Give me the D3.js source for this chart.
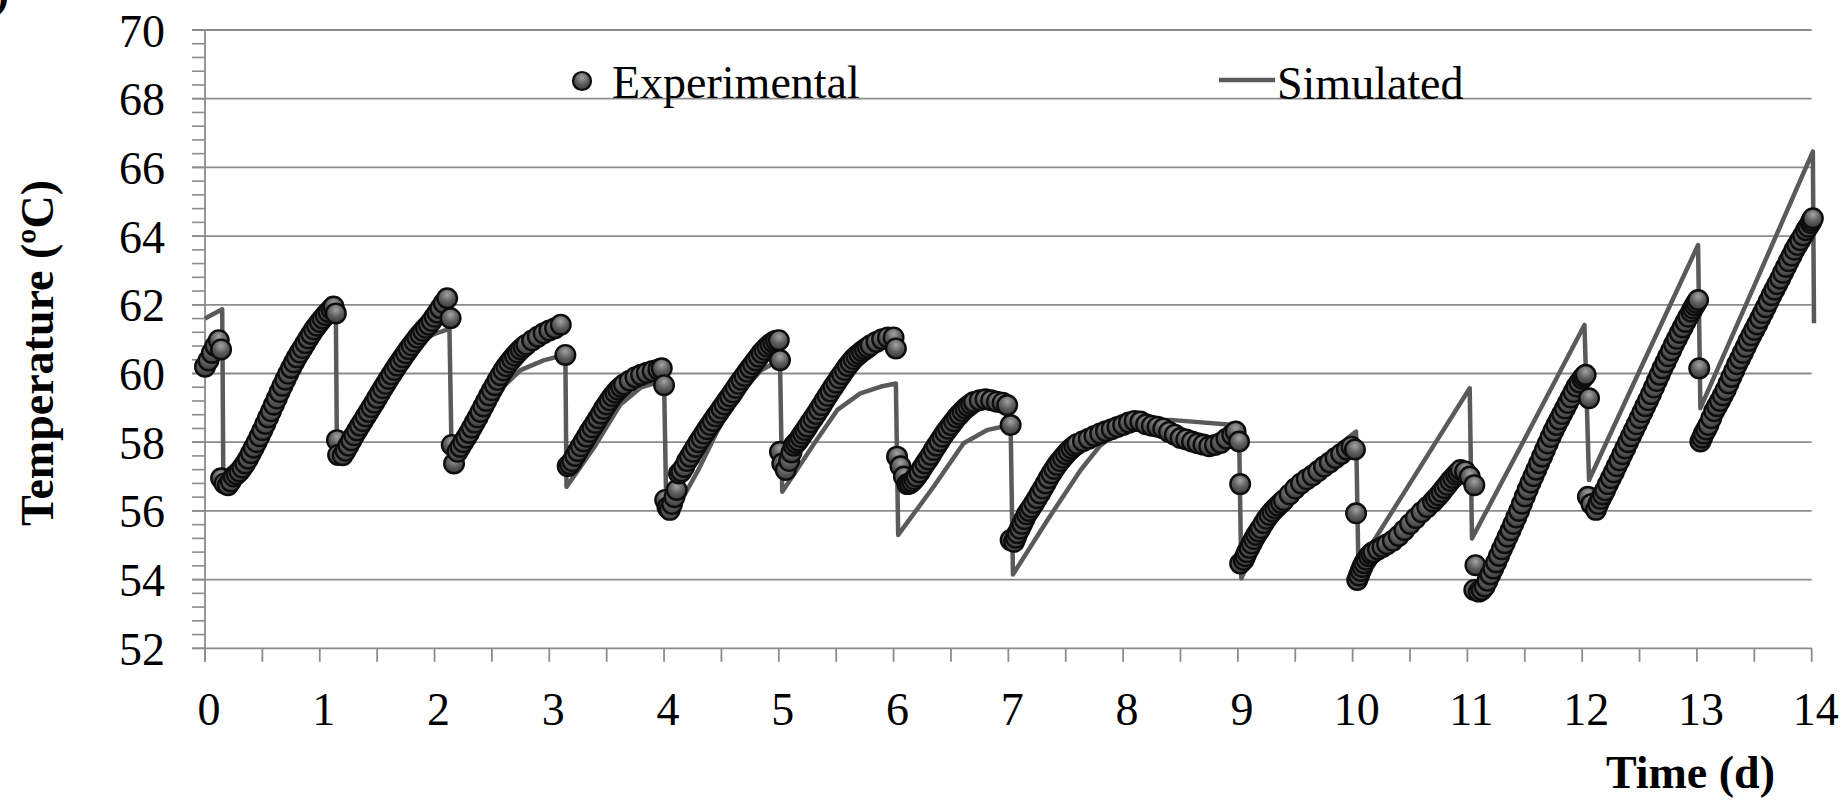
<!DOCTYPE html>
<html>
<head>
<meta charset="utf-8">
<script src="https://cdn.jsdelivr.net/npm/d3@7"></script>
<style>
  body { margin: 0; background: #fff; }
  text { font-family: "Liberation Serif", "Times New Roman", serif; fill: #000; }
</style>
</head>
<body>
<svg id="chart" width="1848" height="802"></svg>
<script>
// values: [time (d), temperature (ºC)]
var experimental = [
  [0.00,60.20],[0.03,60.38],[0.06,60.60],[0.09,60.80],[0.12,60.97],[0.14,60.70],
  [0.14,56.95],[0.17,56.80],[0.20,56.75],[0.225,56.86],[0.25,57.00],[0.275,57.07],[0.30,57.15],[0.325,57.26],[0.35,57.38],[0.375,57.52],[0.40,57.68],[0.425,57.84],[0.45,58.00],[0.475,58.17],[0.50,58.35],[0.525,58.53],[0.55,58.72],[0.575,58.90],[0.60,59.09],[0.625,59.27],[0.65,59.46],[0.675,59.64],[0.70,59.82],[0.725,59.99],[0.75,60.16],[0.775,60.32],[0.80,60.47],[0.825,60.61],[0.85,60.74],[0.875,60.88],[0.90,61.02],[0.925,61.15],[0.95,61.28],[0.975,61.39],[1.00,61.50],[1.025,61.60],[1.05,61.70],[1.075,61.79],[1.10,61.88],[1.12,61.95],[1.14,61.75],
  [1.15,58.06],[1.16,57.63],[1.20,57.62],[1.225,57.75],[1.25,57.90],[1.275,58.05],[1.30,58.20],[1.325,58.34],[1.35,58.48],[1.375,58.61],[1.40,58.75],[1.425,58.88],[1.45,59.02],[1.475,59.15],[1.50,59.29],[1.525,59.43],[1.55,59.57],[1.575,59.70],[1.60,59.84],[1.625,59.97],[1.65,60.10],[1.675,60.23],[1.70,60.35],[1.725,60.47],[1.75,60.59],[1.775,60.71],[1.80,60.82],[1.825,60.93],[1.85,61.04],[1.875,61.14],[1.90,61.24],[1.925,61.33],[1.95,61.42],[1.975,61.53],[2.00,61.65],[2.025,61.77],[2.05,61.90],[2.08,62.05],[2.11,62.19],[2.14,61.61],
  [2.15,57.92],[2.17,57.38],[2.20,57.72],[2.225,57.86],[2.25,58.00],[2.275,58.13],[2.30,58.27],[2.325,58.42],[2.35,58.57],[2.375,58.72],[2.40,58.88],[2.425,59.04],[2.45,59.20],[2.475,59.36],[2.50,59.51],[2.525,59.66],[2.55,59.81],[2.575,59.95],[2.60,60.09],[2.625,60.21],[2.65,60.32],[2.675,60.42],[2.70,60.52],[2.725,60.61],[2.75,60.70],[2.775,60.77],[2.80,60.84],[2.85,60.96],[2.90,61.07],[2.95,61.17],[3.00,61.25],[3.05,61.32],[3.10,61.42],[3.14,60.54],
  [3.16,57.30],[3.18,57.36],[3.20,57.45],[3.225,57.60],[3.25,57.74],[3.275,57.88],[3.30,58.02],[3.325,58.16],[3.35,58.30],[3.375,58.43],[3.40,58.56],[3.425,58.70],[3.45,58.83],[3.475,58.97],[3.50,59.10],[3.525,59.22],[3.55,59.34],[3.575,59.44],[3.60,59.53],[3.625,59.61],[3.65,59.68],[3.70,59.79],[3.75,59.89],[3.80,59.96],[3.85,60.02],[3.90,60.07],[3.95,60.12],[3.98,60.15],[4.00,59.66],
  [4.01,56.32],[4.03,56.10],[4.05,56.03],[4.07,56.20],[4.09,56.40],[4.11,56.61],[4.13,57.09],[4.15,57.15],[4.175,57.28],[4.20,57.45],[4.225,57.58],[4.25,57.72],[4.275,57.86],[4.30,58.00],[4.325,58.12],[4.35,58.25],[4.375,58.38],[4.40,58.50],[4.425,58.62],[4.45,58.75],[4.475,58.86],[4.50,58.98],[4.525,59.10],[4.55,59.22],[4.575,59.33],[4.60,59.45],[4.625,59.58],[4.65,59.70],[4.675,59.82],[4.70,59.93],[4.725,60.05],[4.75,60.16],[4.775,60.27],[4.80,60.38],[4.825,60.49],[4.85,60.60],[4.875,60.69],[4.90,60.78],[4.925,60.85],[4.95,60.91],[4.975,60.95],[5.00,60.97],[5.01,60.39],
  [5.01,57.72],[5.03,57.38],[5.06,57.19],[5.09,57.45],[5.11,57.70],[5.13,57.90],[5.15,57.98],[5.17,58.05],[5.19,58.15],[5.21,58.25],[5.23,58.35],[5.25,58.45],[5.275,58.58],[5.30,58.70],[5.325,58.82],[5.35,58.95],[5.375,59.08],[5.40,59.22],[5.425,59.35],[5.45,59.48],[5.475,59.61],[5.50,59.73],[5.525,59.86],[5.55,59.98],[5.575,60.10],[5.60,60.22],[5.625,60.32],[5.65,60.42],[5.675,60.50],[5.70,60.57],[5.725,60.64],[5.75,60.70],[5.775,60.76],[5.80,60.82],[5.85,60.92],[5.90,61.00],[5.95,61.05],[6.00,61.05],[6.02,60.73],
  [6.03,57.58],[6.06,57.30],[6.09,57.00],[6.12,56.78],[6.14,56.80],[6.16,56.85],[6.18,56.92],[6.20,57.00],[6.225,57.12],[6.25,57.25],[6.275,57.38],[6.30,57.50],[6.325,57.63],[6.35,57.77],[6.375,57.90],[6.40,58.03],[6.425,58.16],[6.45,58.28],[6.475,58.39],[6.50,58.50],[6.525,58.61],[6.55,58.72],[6.575,58.81],[6.60,58.90],[6.625,58.98],[6.65,59.05],[6.675,59.11],[6.70,59.17],[6.75,59.22],[6.80,59.25],[6.85,59.22],[6.90,59.18],[6.95,59.15],[6.99,59.08],[7.02,58.50],
  [7.02,55.15],[7.05,55.10],[7.065,55.22],[7.08,55.35],[7.10,55.48],[7.12,55.62],[7.14,55.76],[7.16,55.90],[7.18,56.00],[7.20,56.10],[7.225,56.23],[7.25,56.37],[7.275,56.51],[7.30,56.65],[7.325,56.80],[7.35,56.95],[7.375,57.09],[7.40,57.22],[7.425,57.34],[7.45,57.45],[7.475,57.55],[7.50,57.65],[7.525,57.74],[7.55,57.82],[7.575,57.89],[7.60,57.95],[7.65,58.03],[7.70,58.10],[7.75,58.18],[7.80,58.25],[7.85,58.32],[7.90,58.38],[7.95,58.44],[8.00,58.50],[8.05,58.57],[8.10,58.62],[8.15,58.60],[8.20,58.52],[8.25,58.48],[8.30,58.45],[8.35,58.40],[8.40,58.30],[8.45,58.22],[8.50,58.12],[8.55,58.08],[8.60,58.02],[8.65,57.97],[8.70,57.93],[8.75,57.88],[8.80,57.92],[8.85,57.98],[8.90,58.10],[8.95,58.22],[8.98,58.31],[9.01,58.02],[9.02,56.78],
  [9.02,54.47],[9.05,54.57],[9.065,54.68],[9.08,54.80],[9.10,54.92],[9.12,55.05],[9.14,55.18],[9.16,55.30],[9.18,55.40],[9.20,55.50],[9.225,55.64],[9.25,55.77],[9.275,55.88],[9.30,55.98],[9.325,56.07],[9.35,56.15],[9.375,56.23],[9.40,56.31],[9.45,56.48],[9.50,56.65],[9.55,56.80],[9.60,56.92],[9.65,57.03],[9.70,57.16],[9.75,57.29],[9.80,57.41],[9.85,57.54],[9.90,57.66],[9.95,57.78],[9.99,57.87],[10.02,57.79],[10.03,55.93],
  [10.04,53.99],[10.055,54.12],[10.07,54.25],[10.085,54.37],[10.10,54.48],[10.12,54.58],[10.14,54.68],[10.16,54.75],[10.18,54.80],[10.22,54.88],[10.26,54.95],[10.30,55.03],[10.35,55.13],[10.40,55.27],[10.45,55.44],[10.50,55.62],[10.55,55.79],[10.60,55.96],[10.65,56.11],[10.70,56.27],[10.725,56.36],[10.75,56.45],[10.775,56.55],[10.80,56.66],[10.825,56.76],[10.85,56.87],[10.875,56.96],[10.90,57.05],[10.92,57.12],[10.94,57.19],[10.98,57.15],[11.02,57.00],[11.06,56.75],
  [11.06,53.70],[11.10,53.65],[11.07,54.42],[11.125,53.70],[11.15,53.80],[11.175,53.97],[11.20,54.15],[11.225,54.32],[11.25,54.50],[11.275,54.69],[11.30,54.88],[11.325,55.06],[11.35,55.25],[11.375,55.43],[11.40,55.62],[11.425,55.81],[11.45,56.00],[11.475,56.21],[11.50,56.42],[11.525,56.62],[11.55,56.82],[11.575,57.01],[11.60,57.20],[11.625,57.39],[11.65,57.58],[11.675,57.77],[11.70,57.96],[11.725,58.15],[11.75,58.33],[11.775,58.50],[11.80,58.66],[11.825,58.82],[11.85,58.98],[11.875,59.14],[11.90,59.30],[11.925,59.46],[11.95,59.62],[11.975,59.74],[12.00,59.85],[12.015,59.91],[12.03,59.96],[12.06,59.28],
  [12.05,56.41],[12.08,56.20],[12.12,56.03],[12.14,56.20],[12.16,56.35],[12.18,56.48],[12.20,56.60],[12.225,56.78],[12.25,56.95],[12.275,57.12],[12.30,57.30],[12.325,57.47],[12.35,57.65],[12.375,57.82],[12.40,58.00],[12.425,58.17],[12.45,58.35],[12.475,58.52],[12.50,58.70],[12.525,58.87],[12.55,59.05],[12.575,59.22],[12.60,59.40],[12.625,59.59],[12.65,59.78],[12.675,59.96],[12.70,60.15],[12.725,60.32],[12.75,60.50],[12.775,60.67],[12.80,60.85],[12.825,61.01],[12.85,61.18],[12.875,61.34],[12.90,61.50],[12.925,61.65],[12.95,61.80],[12.965,61.89],[12.98,61.98],[12.995,62.06],[13.01,62.14],[13.02,60.15],
  [13.03,58.02],[13.045,58.13],[13.06,58.25],[13.08,58.37],[13.10,58.50],[13.125,58.70],[13.15,58.90],[13.175,59.05],[13.20,59.20],[13.225,59.36],[13.25,59.52],[13.275,59.71],[13.30,59.90],[13.325,60.08],[13.35,60.27],[13.375,60.43],[13.40,60.60],[13.425,60.77],[13.45,60.95],[13.475,61.11],[13.50,61.27],[13.525,61.43],[13.55,61.60],[13.575,61.76],[13.60,61.93],[13.625,62.10],[13.65,62.28],[13.675,62.44],[13.70,62.60],[13.725,62.76],[13.75,62.93],[13.775,63.10],[13.80,63.27],[13.825,63.43],[13.85,63.60],[13.875,63.74],[13.90,63.88],[13.925,64.02],[13.95,64.17],[13.97,64.27],[13.99,64.38],[14.00,64.45],[14.01,64.52]
];

var simulated = [
  [0.00,61.60],[0.15,61.87],[0.16,56.80],[0.30,57.30],[0.50,58.60],[0.70,60.05],[0.90,61.00],[1.05,61.50],[1.14,61.75],
  [1.15,57.60],[1.30,58.20],[1.50,59.30],[1.70,60.30],[1.90,61.00],[2.00,61.15],[2.13,61.30],
  [2.15,57.40],[2.30,58.10],[2.50,59.30],[2.75,60.10],[2.95,60.38],[3.14,60.55],
  [3.15,56.70],[3.40,57.90],[3.62,59.10],[3.80,59.60],[4.00,59.80],
  [4.02,56.00],[4.15,56.30],[4.30,57.20],[4.46,58.30],[4.65,59.40],[4.85,60.10],[5.01,60.40],
  [5.03,56.56],[5.31,57.97],[5.51,58.94],[5.71,59.42],[5.89,59.62],[6.02,59.71],
  [6.04,55.30],[6.35,56.71],[6.61,57.97],[6.82,58.36],[7.02,58.50],
  [7.04,54.15],[7.34,55.73],[7.63,57.19],[7.80,57.90],[8.00,58.40],[8.20,58.60],[8.41,58.65],[8.97,58.50],[9.01,58.45],
  [9.03,54.04],[9.20,55.30],[9.40,56.30],[9.60,57.00],[9.80,57.70],[10.03,58.31],
  [10.05,54.42],[10.45,56.54],[11.02,59.57],
  [11.04,55.20],[11.50,58.10],[12.02,61.41],
  [12.06,56.90],[12.50,60.08],[13.01,63.74],
  [13.03,58.99],[13.50,62.56],[14.01,66.46],[14.02,61.46]
];

var yTicks = [52, 54, 56, 58, 60, 62, 64, 66, 68, 70];
var xTicks = [0, 1, 2, 3, 4, 5, 6, 7, 8, 9, 10, 11, 12, 13, 14];

var svg = d3.select('#chart');
var x = d3.scaleLinear().domain([0, 14]).range([205, 1811.7]);
var y = d3.scaleLinear().domain([52, 70]).range([648.3, 30]);
var gridColor = '#8c8c8c';

// sphere-like marker fill
var grad = svg.append('defs').append('radialGradient')
  .attr('id', 'ball').attr('cx', '50%').attr('cy', '32%').attr('r', '68%');
grad.append('stop').attr('offset', '0%').attr('stop-color', '#a3a3a3');
grad.append('stop').attr('offset', '55%').attr('stop-color', '#5c5c5c');
grad.append('stop').attr('offset', '100%').attr('stop-color', '#3a3a3a');

// horizontal gridlines
svg.append('g').selectAll('line').data(yTicks.filter(d => d > 52))
  .enter().append('line')
    .attr('x1', 192).attr('x2', x(14))
    .attr('y1', d => y(d)).attr('y2', d => y(d))
    .style('stroke', gridColor).style('stroke-width', 1.8);

// y minor ticks
svg.append('g').selectAll('line').data(d3.range(52, 70.001, 0.4))
  .enter().append('line')
    .attr('x1', 192).attr('x2', x(0))
    .attr('y1', d => y(d)).attr('y2', d => y(d))
    .style('stroke', gridColor).style('stroke-width', 1.6);

// axes lines
svg.append('line')
  .attr('x1', x(0)).attr('x2', x(0)).attr('y1', y(70)).attr('y2', y(52) + 13.5)
  .style('stroke', gridColor).style('stroke-width', 1.8);
svg.append('line')
  .attr('x1', 192).attr('x2', x(14)).attr('y1', y(52)).attr('y2', y(52))
  .style('stroke', gridColor).style('stroke-width', 1.8);

// x ticks every half day
svg.append('g').selectAll('line').data(d3.range(0, 14.001, 0.5))
  .enter().append('line')
    .attr('x1', d => x(d)).attr('x2', d => x(d))
    .attr('y1', y(52)).attr('y2', y(52) + 13.5)
    .style('stroke', gridColor).style('stroke-width', 1.8);

// tick labels
svg.append('g').selectAll('text').data(yTicks)
  .enter().append('text')
    .attr('x', 165).attr('y', d => y(d) + 16.5)
    .style('text-anchor', 'end').style('font-size', '46px')
    .text(d => d);

svg.append('g').selectAll('text').data(xTicks)
  .enter().append('text')
    .attr('x', d => x(d) + 4).attr('y', 725)
    .style('text-anchor', 'middle').style('font-size', '46px')
    .text(d => d);

// axis titles
svg.append('text')
  .attr('transform', 'translate(53,353) rotate(-90)')
  .style('text-anchor', 'middle').style('font-size', '46px').style('font-weight', 'bold')
  .text('Temperature (ºC)');

svg.append('text')
  .attr('x', 1775).attr('y', 788)
  .style('text-anchor', 'end').style('font-size', '46px').style('font-weight', 'bold')
  .text('Time (d)');

// panel letter, mostly cut off at the edge as in the source figure
svg.append('text')
  .attr('x', 9).attr('y', 7)
  .style('text-anchor', 'end').style('font-size', '46px').style('font-weight', 'bold')
  .text('(b)');

// simulated line
var line = d3.line().x(d => x(d[0])).y(d => y(d[1]));
svg.append('path').datum(simulated)
  .attr('d', line)
  .style('fill', 'none').style('stroke', '#5a5a5a').style('stroke-width', 4.5)
  .style('stroke-linejoin', 'round');

// experimental markers
svg.append('g').selectAll('circle').data(experimental)
  .enter().append('circle')
    .attr('cx', d => x(d[0])).attr('cy', d => y(d[1]))
    .attr('r', 9.8)
    .style('fill', 'url(#ball)').style('stroke', '#0d0d0d').style('stroke-width', 2.4);

// legend
var leg = svg.append('g');
leg.append('circle')
  .attr('cx', 582).attr('cy', 81).attr('r', 9)
  .style('fill', 'url(#ball)').style('stroke', '#0d0d0d').style('stroke-width', 2.2);
leg.append('text')
  .attr('x', 612).attr('y', 98).style('font-size', '46px')
  .text('Experimental');
leg.append('line')
  .attr('x1', 1219).attr('x2', 1275).attr('y1', 80).attr('y2', 80)
  .style('stroke', '#5a5a5a').style('stroke-width', 4.5);
leg.append('text')
  .attr('x', 1277).attr('y', 99).style('font-size', '46px')
  .text('Simulated');
</script>
</body>
</html>
